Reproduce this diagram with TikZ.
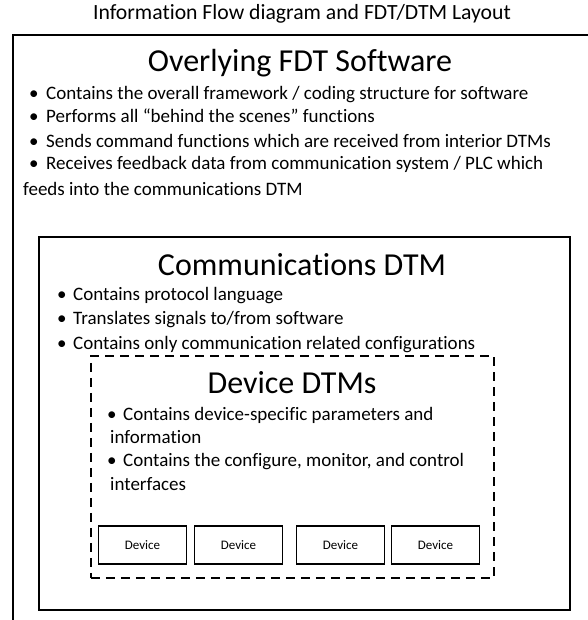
\documentclass[tikz,border=0pt]{standalone}
\usepackage{fontspec}
\setmainfont[RawFeature={-liga;-calt;-clig}]{Carlito}
\usetikzlibrary{positioning}
\newcommand{\bul}[1][16pt]{\makebox[#1][l]{\textbullet}}

\begin{document}
\begin{tikzpicture}[ x=1pt, y=-1pt,
      layer box/.style={draw, line width=1.8pt, rectangle, anchor=north west, inner sep=0pt},
      dtm box/.style={layer box, line width=1.8pt, dash pattern=on 9pt off 6pt},
      device box/.style={draw, line width=1.6pt, rectangle, inner sep=0pt,
        minimum width=88pt, minimum height=38pt, font=\fontsize{13}{15}\selectfont},
      heading/.style={anchor=base, inner sep=0pt, font=\fontsize{32}{38}\selectfont},
      bullet line/.style={anchor=base west, inner sep=0pt, font=\fontsize{19}{23}\selectfont}
      ]
      \useasboundingbox (0,0) rectangle (587,620);

      % title
      \node[anchor=base, inner sep=0pt, font=\fontsize{21.7}{26}\selectfont] (Title) at (302,20)
        {Information Flow diagram and FDT/DTM Layout};

      % overlying software
      \node[layer box, minimum width=620pt, minimum height=640pt] (FDTBox) at (12,34) {};
      \node[heading] (FDTHead) at (300,72) {Overlying FDT Software};
      \node[bullet line] (FDTa) at (29,100) {\bul[17pt]Contains the overall framework / coding structure for software};
      \node[bullet line] (FDTb) at (29,123) {\bul[17pt]Performs all “behind the scenes” functions};
      \node[bullet line] (FDTc) at (29,148) {\bul[17pt]Sends command functions which are received from interior DTMs};
      \node[bullet line] (FDTd) at (29,170) {\bul[17pt]Receives feedback data from communication system / PLC which};
      \node[bullet line] (FDTe) at (23,196) {feeds into the communications DTM};

      % communications DTM
      \node[layer box, minimum width=531pt, minimum height=373pt] (CommBox) at (38,236) {};
      \node[heading] (CommHead) at (302,275) {Communications DTM};
      \node[bullet line] (Comma) at (57,300) {\bul Contains protocol language};
      \node[bullet line] (Commb) at (57,324) {\bul Translates signals to/from software};
      \node[bullet line] (Commc) at (57,349) {\bul Contains only communication related configurations};

      % device DTMs
      \node[dtm box, minimum width=403pt, minimum height=222pt] (DevBox) at (90,355) {};
      \node[heading] (DevHead) at (292,393) {Device DTMs};
      \node[bullet line] (Deva) at (107,420) {\bul Contains device-specific parameters and};
      \node[bullet line] (Devb) at (110,443) {information};
      \node[bullet line] (Devc) at (107,466) {\bul Contains the configure, monitor, and control};
      \node[bullet line] (Devd) at (110,490) {interfaces};

      % devices
      \foreach \i/\x in {1/142.5,2/238.5,3/340.5,4/435.5}
        \node[device box] (Dev\i) at (\x,545) {Device};
    \end{tikzpicture}
\end{document}
